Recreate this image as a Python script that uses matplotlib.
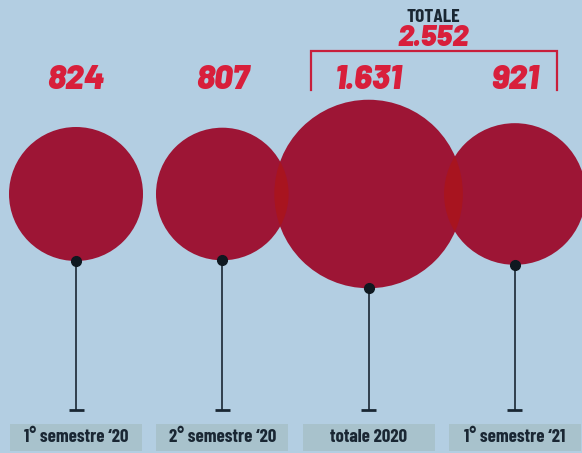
import matplotlib
matplotlib.use("Agg")
import matplotlib.pyplot as plt
from matplotlib.patches import Circle, Rectangle
import numpy as np

# ---- data ----
categories = ["1° semestre \u201820", "2° semestre \u201820", "totale 2020", "1° semestre \u201821"]
values = [824, 807, 1631, 921]
value_labels = ["824", "807", "1.631", "921"]
total_title = "TOTALE"
total_label = "2.552"

# ---- style ----
bg = "#b3cee2"
circle_col = "#9d1535"
overlap_col = "#a8141f"
num_col = "#d81f3b"
bracket_col = "#c81f3b"
dark = "#1a2733"
box_col = "#a8c2cc"
num_font = ["Barlow", "DejaVu Sans"]
lab_font = ["Barlow Condensed", "DejaVu Sans"]

fig = plt.figure(figsize=(5.82, 4.53), dpi=100)
fig.patch.set_facecolor(bg)
ax = fig.add_axes([0, 0, 1, 1])
ax.set_xlim(0, 582)
ax.set_ylim(453, 0)
ax.axis("off")

x0, step = 76, 146.3
cy = 194
k = 67 / np.sqrt(824)
xs = [x0 + i * step for i in range(len(values))]
radii = [k * np.sqrt(v) for v in values]

circles = []
for x, r in zip(xs, radii):
    c = Circle((x, cy), r, facecolor=circle_col, edgecolor="none", zorder=2)
    ax.add_patch(c)
    circles.append(c)

# overlap tint
for i in range(len(circles) - 1):
    xa, ra = xs[i], radii[i]
    xb, rb = xs[i + 1], radii[i + 1]
    if xb - xa < ra + rb:
        o = Circle((xb, cy), rb, facecolor=overlap_col, edgecolor="none", zorder=3)
        ax.add_patch(o)
        o.set_clip_path(circles[i])

stem_bottom = 410
for x, r, cat, lbl in zip(xs, radii, categories, value_labels):
    ax.plot([x, x], [cy + r, stem_bottom], color=dark, lw=1.2, zorder=4, solid_capstyle="butt")
    ax.plot([x - 7.5, x + 7.5], [stem_bottom, stem_bottom], color=dark, lw=2.0, zorder=4,
            solid_capstyle="butt")
    ax.plot([x], [cy + r], "o", ms=7, color="#0f1820", zorder=5)
    ax.add_patch(Rectangle((x - 66, 424), 132, 27, facecolor=box_col, edgecolor="none", zorder=1))
    ax.text(x, 437.5, cat, ha="center", va="center", family=lab_font,
            weight=700, fontsize=13.5, color=dark, zorder=6)
    ax.text(x, 80, lbl, ha="center", va="center", family=num_font, weight=900,
            style="italic", fontsize=24, color=num_col, zorder=6)

# bracket for total
bx0 = xs[2] - 58
bx1 = xs[3] + 42
ax.plot([bx0, bx0, bx1, bx1], [90, 51, 51, 90], color=bracket_col, lw=1.6, zorder=4,
        solid_joinstyle="miter")
bxc = (bx0 + bx1) / 2
ax.text(bxc, 17, total_title, ha="center", va="center", family=lab_font,
        weight=700, fontsize=14, color=dark)
ax.text(bxc, 37.5, total_label, ha="center", va="center", family=num_font, weight=900,
        style="italic", fontsize=21, color=num_col)

fig.savefig("out.png", dpi=100, facecolor=bg)
